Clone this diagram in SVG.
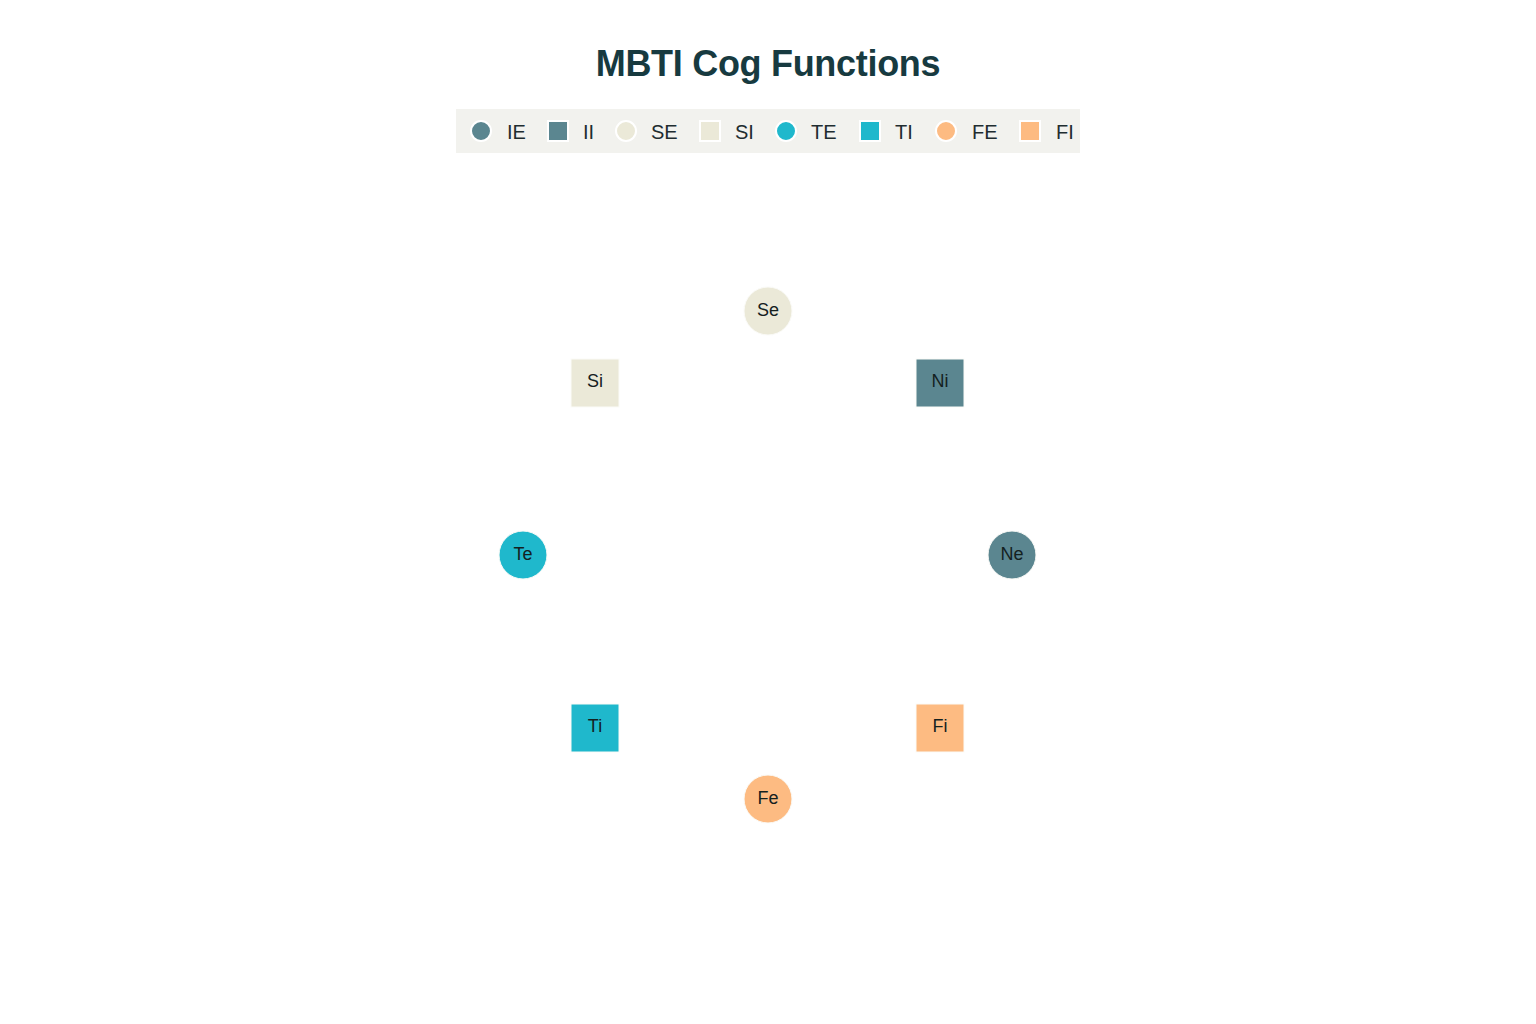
<svg xmlns="http://www.w3.org/2000/svg" width="1536" height="1024" viewBox="0 0 1536 1024">
<style>
.title{font-family:"Liberation Sans",Arial,sans-serif;font-weight:bold;font-size:36px;letter-spacing:-0.3px;fill:#173a40}
.lg{font-family:"Liberation Sans",Arial,sans-serif;font-size:20px;fill:#1f2d30}
.lm{stroke:#ffffff;stroke-width:2}
.nl{font-family:"Liberation Sans",Arial,sans-serif;font-size:18px;fill:#14211f;text-anchor:middle;dominant-baseline:central}
.n{stroke:#fbfbf8;stroke-width:1}
.ie{fill:#5b8690}.se{fill:#ebe9d8}.te{fill:#1fb8cc}.fe{fill:#fdbb82}
</style>
<rect width="1536" height="1024" fill="#ffffff"/>
<text class="title" x="768" y="76" text-anchor="middle">MBTI Cog Functions</text>
<g id="legend">
<rect x="456" y="109" width="624" height="44" fill="#f2f2ee"/>
<circle class="lm ie" cx="481" cy="131" r="10"/><text class="lg" x="507" y="139">IE</text>
<rect class="lm ie" x="548" y="121" width="20" height="20"/><text class="lg" x="583" y="139">II</text>
<circle class="lm se" cx="626" cy="131" r="10"/><text class="lg" x="651" y="139">SE</text>
<rect class="lm se" x="700" y="121" width="20" height="20"/><text class="lg" x="735" y="139">SI</text>
<circle class="lm te" cx="786" cy="131" r="10"/><text class="lg" x="811" y="139">TE</text>
<rect class="lm te" x="860" y="121" width="20" height="20"/><text class="lg" x="895" y="139">TI</text>
<circle class="lm fe" cx="946" cy="131" r="10"/><text class="lg" x="972" y="139">FE</text>
<rect class="lm fe" x="1020" y="121" width="20" height="20"/><text class="lg" x="1056" y="139">FI</text>
</g>
<g id="connectors"></g>
<g id="node-Se"><circle class="n se" cx="768" cy="311" r="24"/><text class="nl" x="768" y="310">Se</text></g>
<g id="node-Si"><rect class="n se" x="571" y="359" width="48" height="48"/><text class="nl" x="595" y="381">Si</text></g>
<g id="node-Ni"><rect class="n ie" x="916" y="359" width="48" height="48"/><text class="nl" x="940" y="381">Ni</text></g>
<g id="node-Te"><circle class="n te" cx="523" cy="555" r="24"/><text class="nl" x="523" y="554">Te</text></g>
<g id="node-Ne"><circle class="n ie" cx="1012" cy="555" r="24"/><text class="nl" x="1012" y="554">Ne</text></g>
<g id="node-Ti"><rect class="n te" x="571" y="704" width="48" height="48"/><text class="nl" x="595" y="726">Ti</text></g>
<g id="node-Fi"><rect class="n fe" x="916" y="704" width="48" height="48"/><text class="nl" x="940" y="726">Fi</text></g>
<g id="node-Fe"><circle class="n fe" cx="768" cy="799" r="24"/><text class="nl" x="768" y="798">Fe</text></g>
</svg>
